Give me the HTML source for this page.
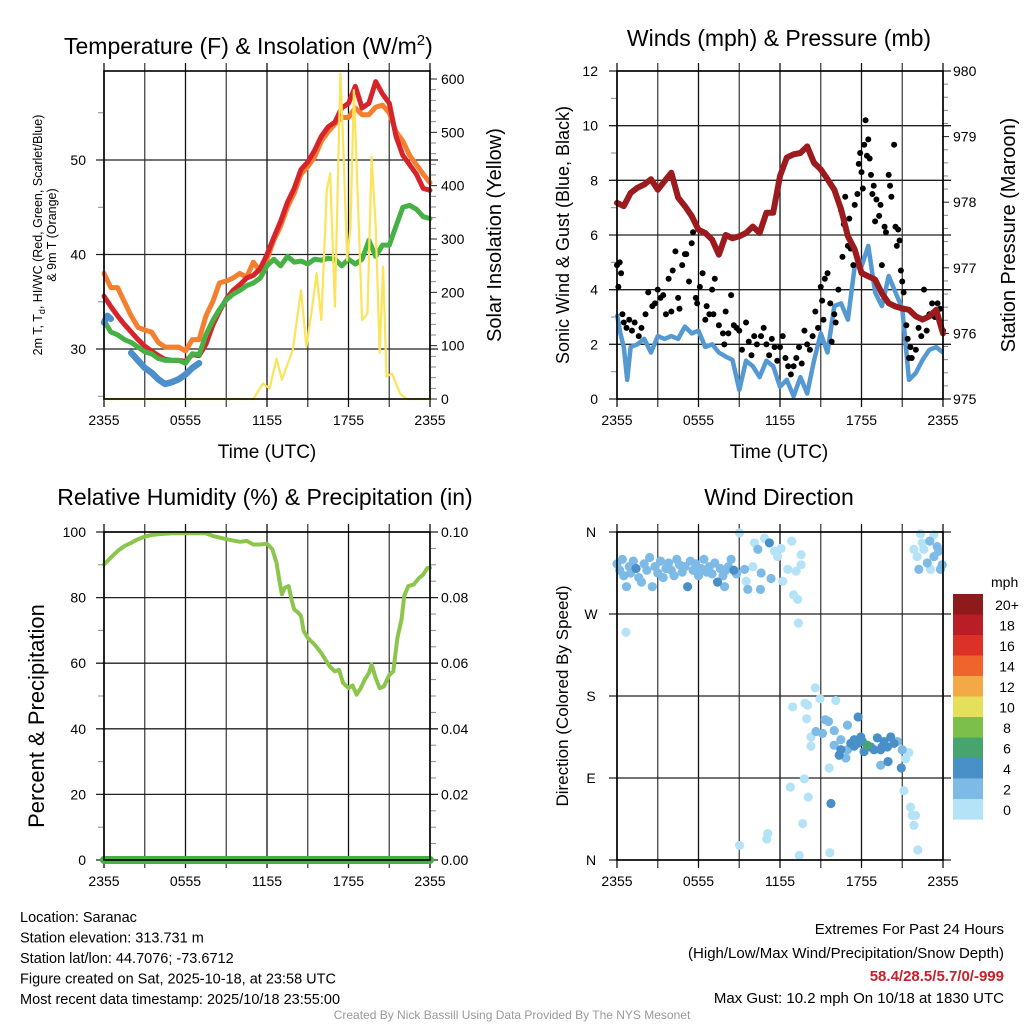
<!DOCTYPE html>
<html><head><meta charset="utf-8"><style>
body{margin:0;background:#fff;}
svg{display:block;font-family:"Liberation Sans",sans-serif;}
</style></head><body>
<svg id="chart" width="1024" height="1024" viewBox="0 0 1024 1024"></svg>
<script>
// ---------- DATA ----------
const halfHours = [0,0.5,1,1.5,2,2.5,3,3.5,4,4.5,5,5.5,6,6.5,7,7.5,8,8.5,9,9.5,10,10.5,11,11.5,12,12.5,13,13.5,14,14.5,15,15.5,16,16.5,17,17.5,18,18.5,19,19.5,20,20.5,21,21.5,22,22.5,23,23.5,24];
const temp2m = [35.6,34.5,33.5,32.6,31.8,31,30.3,29.8,29.3,28.9,28.8,28.8,28.7,29.4,29.3,30.5,32.5,34,35.3,36.2,36.8,37.5,37.8,38.5,40,41.8,43.5,45.5,47,49,49.8,51,52.5,53.5,54,55.5,56,57.8,55.5,56,58.3,57,56,52.5,50.5,49.5,48.5,47,46.8];
const temp9m = [38,36.5,36.5,35,33.5,32.3,32,31.8,30.7,30.2,30.2,30.2,29.8,31,31,33.5,35,37,37.2,37.5,38,37.6,39.2,38.2,39.5,41.5,43,45,46.5,48.5,49.3,50.3,52,53,53.8,54.5,54.5,55.5,54.8,54.8,55.6,55.8,55,53,52,50.5,49.5,48.5,47.6];
const dewpoint = [33,31.8,31.5,31,30.7,30.2,29.7,29.5,29,28.8,28.8,28.8,28.5,29.5,29.4,31.5,33,34.2,35.2,35.8,36.2,36.7,37,37.5,38.8,39.5,38.8,39.8,39.2,39.3,39,39.5,39.4,39.6,39.5,38.8,39.5,39,39.5,41.5,39.8,41,41,43,45,45.2,44.8,44,43.8];
const wcTimes = [0,0.25,0.5,null,2,2.5,3,3.5,4,4.5,5,5.5,6,6.5,7];
const windChill = [32.8,33.5,33.2,null,29.6,28.8,28,27.5,26.8,26.3,26.5,26.8,27.3,28,28.5];
const solarTimes = [0,11,11.7,12.2,12.7,13.1,13.9,14.5,14.9,15.3,15.65,16,16.4,16.65,17,17.4,17.65,17.9,18.15,18.4,18.65,19,19.4,19.7,20,20.3,20.55,20.8,21.2,21.8,22.3,24];
const solarVals = [0,0,29,20,76,36,92,204,98,167,236,148,392,423,173,610,454,260,323,579,404,148,160,454,323,86,248,42,48,10,0,0];
const pressure = [977.99,977.94,978.14,978.22,978.27,978.35,978.19,978.32,978.45,978.07,977.94,977.79,977.58,977.53,977.43,977.2,977.5,977.45,977.48,977.53,977.63,977.53,977.84,977.84,978.4,978.68,978.73,978.75,978.85,978.6,978.5,978.35,978.19,977.89,977.48,977.28,976.92,976.87,976.82,976.61,976.46,976.41,976.38,976.36,976.26,976.21,976.26,976.36,976.0];
const windTimes = [0,0.25,0.5,0.75,1,1.5,2,2.5,3,3.5,4,4.5,5,5.5,6,6.5,7,7.5,8,8.5,9,9.5,10,10.5,11,11.5,12,12.5,13,13.5,14,14.5,15,15.5,16,16.5,17,17.5,18,18.5,19,19.5,20,20.5,21,21.5,22,22.5,23,23.5,24];
const windSpeed = [3.1,2.4,1.9,0.7,1.9,2.0,2.2,1.7,2.3,2.2,2.3,2.2,2.65,2.4,2.5,1.9,2.0,1.7,1.55,1.43,0.33,1.4,1.2,0.8,1.4,1.2,0.45,0.7,0.1,0.8,0.2,1.4,2.4,1.7,3.4,3.5,2.9,4.85,4.85,5.6,3.9,3.4,4.5,3.9,3.3,0.7,0.95,1.43,1.8,1.9,1.7];
const gustTimes = [0,0.1,0.2,0.3,0.4,0.5,0.7,0.9,1.1,1.3,1.6,1.8,2.1,2.3,2.6,2.8,3.0,3.2,3.4,3.6,3.8,4.0,4.1,4.3,4.5,4.6,4.8,5.0,5.1,5.3,5.5,5.6,5.8,5.9,6.1,6.3,6.5,6.6,6.8,7.0,7.1,7.2,7.5,7.8,7.9,8.0,8.2,8.4,8.6,8.8,9.0,9.2,9.5,9.7,9.9,10.1,10.3,10.6,10.8,11,11.2,11.4,11.6,11.8,12.0,12.2,12.4,12.6,12.8,13.0,13.2,13.4,13.6,13.8,14.0,14.2,14.4,14.6,14.8,15.0,15.1,15.2,15.3,15.5,15.7,15.8,16.0,16.1,16.3,16.5,16.6,16.7,16.8,17.0,17.1,17.2,17.4,17.5,17.7,17.8,17.9,18.0,18.1,18.2,18.3,18.4,18.5,18.6,18.7,18.8,18.9,19.0,19.1,19.3,19.4,19.5,19.7,19.8,20.0,20.1,20.2,20.4,20.5,20.6,20.7,20.8,20.9,21.0,21.1,21.3,21.4,21.5,21.6,21.7,22.0,22.2,22.4,22.6,22.8,23.0,23.2,23.4,23.6,23.8,24.0];
const gustSpeed = [4.9,4.1,5.0,4.6,3.1,2.8,2.6,2.9,2.5,2.8,2.3,2.6,3.1,3.9,3.4,3.5,4.0,3.7,3.8,3.1,4.4,3.2,4.7,5.4,3.7,3.3,4.9,5.3,5.3,4.3,5.7,6.1,3.7,3.5,4.1,4.6,2.9,3.4,3.1,4.0,3.1,4.4,2.7,2.4,2.0,3.2,2.4,3.8,2.7,2.6,2.5,1.8,2.8,2.1,1.6,2.3,2.0,2.3,2.6,2.0,1.6,2.2,1.9,1.4,1.9,2.3,1.5,1.2,0.9,1.2,1.5,1.9,1.3,2.5,2.0,1.8,2.3,3.2,2.6,4.1,3.6,2.9,4.4,4.6,3.5,2.1,3.1,2.8,4.0,6.9,5.2,6.4,7.4,5.6,6.6,5.5,4.9,7.1,7.5,8.6,9.0,8.3,7.7,9.3,10.2,8.9,9.5,8.8,8.2,7.5,7.8,6.5,7.3,6.7,7.1,4.9,6.3,6.1,8.2,7.8,7.4,9.3,6.3,5.6,6.2,5.8,4.7,4.3,3.9,2.7,2.2,1.5,1.9,1.5,1.8,2.6,2.3,4.0,2.5,3.1,3.5,3.0,3.5,3.3,2.5];
const rhTimes = [0,0.5,1,1.5,2,2.5,3,3.5,4,5,6,7,7.5,8,9,10,10.5,11,11.5,12,12.4,12.7,12.9,13.1,13.3,13.6,13.8,14,14.3,14.5,14.7,15,15.5,16,16.3,16.6,17,17.3,17.6,18,18.3,18.6,18.9,19.2,19.5,19.7,20,20.3,20.6,21,21.3,21.6,21.9,22.1,22.4,22.8,23.2,23.5,23.8,24];
const rhVals = [90.1,92.2,94.2,95.7,96.7,97.8,98.6,99.1,99.3,99.6,99.6,99.6,99.6,98.8,97.8,97,97.3,96.2,96.2,96.4,94.7,90.6,85.5,81,83,83.5,79.4,76.4,75.4,74.4,69.8,67.7,65.7,63.1,61.1,59.1,57.5,58,54,52.4,53.2,50.4,52.4,55,57,59.6,55.5,52.4,52.9,56.4,57.5,67.7,73.3,80.5,83.5,84,86,87,89,89.1];
const precipTimes = [0,24];
const precipVals = [0,0];
// wind direction: time (h), direction (deg), speed class (mph bin)
const dirTimes = [0,0.2,0.4,0.5,0.7,0.9,1.0,1.2,1.4,1.6,1.8,2.0,2.2,2.4,2.6,2.8,3.0,3.2,3.4,3.6,3.8,4.0,4.2,4.4,4.6,4.8,5.0,5.2,5.4,5.6,5.8,6.0,6.2,6.4,6.6,6.8,7.0,7.2,7.4,7.6,7.8,8.0,8.2,8.4,8.6,8.8,
 9.02,10.12,10.86,11.22,10.37,11.59,11.83,12.08,12.86,13.55,13.55,13.18,12.57,12.2,13.0,13.3,13.35,11.34,10.56,9.63,9.51,10.0,10.61,9.39,8.78,7.92,
 22.35,23.33,22.47,23.03,22.59,23.57,22.1,23.33,23.69,22.84,23.94,22.22,23.08,23.81,21.86,0.66,
 14.6,12.93,13.84,14.03,14.94,16.11,13.96,15.33,15.57,16.97,17.75,14.65,15.13,15.99,14.28,14.28,15.99,16.48,17.46,17.95,18.43,19.17,19.66,20.15,20.64,18.92,17.46,16.97,16.36,16.85,18.19,19.41,19.95,21.0,21.49,21.25,20.93,15.62,13.79,12.76,14.08,15.75,21.12,21.61,21.74,21.98,21.86,13.67,11.1,11.03,9.02,13.42,15.67,22.15,
 17.7,18.68,19.41,19.9,20.39,17.21,16.48,19.5,18.07];
const dirDegs = [325,318,330,312,300,322,315,328,320,310,305,325,318,332,300,322,315,328,310,320,326,318,312,330,324,316,322,300,328,318,325,312,320,330,316,322,314,326,305,320,312,318,322,330,318,314,
 359,348,353,348,341,339,333,342,350,335,324,317,319,306,291,286,260,309,297,297,306,322,315,319,315,300,
 358,357,348,350,341,344,333,333,339,326,324,319,319,319,341,250,
 189,168,172,170,177,175,155,154,152,148,157,141,139,142,135,125,126,132,132,135,126,134,130,135,130,121,125,121,115,112,119,104,108,121,118,111,101,101,89,80,69,62,76,58,49,49,38,40,29,23,16,5,8,11,
 128,124,121,124,128,128,121,124,130];
const dirSpeed = [2,2,2,2,2,2,2,2,4,2,2,2,2,2,2,2,2,2,2,2,2,2,2,2,2,2,2,4,2,2,2,2,2,2,2,2,2,2,4,2,2,2,2,2,4,2,
 0,0,0,4,2,0,0,0,0,0,0,0,0,0,0,0,0,2,2,2,0,0,2,2,2,2,
 0,0,0,2,0,2,0,2,2,2,2,2,0,2,0,0,
 0,0,0,0,0,0,0,2,2,2,4,2,2,2,0,0,2,2,4,4,6,4,4,4,2,4,4,2,4,2,4,2,4,2,0,0,4,0,0,0,0,4,0,0,0,0,0,0,0,0,0,0,0,0,
 4,4,4,4,4,4,4,4,4];
const legendLabels = ["20+","18","16","14","12","10","8","6","4","2","0"];
const legendColors = ["#8f1a1c","#b91d25","#dc3127","#ef632c","#f5a946","#e5e05b","#7cc04b","#48a46e","#4a90c8","#7dbbe6","#b4e3f8"];
const speedBins = [20,18,16,14,12,10,8,6,4,2,0];
const timeTickLabels = ["2355","0555","1155","1755","2355"];
const tempTicks = [30,40,50];
const solarTicks = [0,100,200,300,400,500,600];
const windTicks = [0,2,4,6,8,10,12];
const pressTicks = [975,976,977,978,979,980];
const rhTicks = [0,20,40,60,80,100];
const precipTicks = ["0.00","0.02","0.04","0.06","0.08","0.10"];
const dirTickLabels = ["N","E","S","W","N"];

// ---------- HELPERS ----------
const NS="http://www.w3.org/2000/svg";
const svg=document.getElementById('chart');
function mk(tag,attrs,parent){const e=document.createElementNS(NS,tag);for(const k in attrs)e.setAttribute(k,attrs[k]);(parent||svg).appendChild(e);return e;}
function txt(s,attrs,parent){const e=mk('text',attrs,parent);e.textContent=s;return e;}
const W=326;
function lin(d0,d1,r0,r1){return v=>r0+(v-d0)*(r1-r0)/(d1-d0);}
function pathFrom(xs,ys,fx,fy){let d='',pen=false;for(let i=0;i<xs.length;i++){if(xs[i]===null||ys[i]===null){pen=false;continue;}d+=(pen?'L':'M')+fx(xs[i]).toFixed(1)+','+fy(ys[i]).toFixed(1);pen=true;}return d;}

function frame(g,x0,y0){
  const x1=x0+W,y1=y0+328;
  for(let i=0;i<=8;i++){const x=x0+i*W/8;
    const l=mk('line',{x1:x,x2:x,y1:y0-8,y2:y1+8,stroke:i%2?'#444':'#111','stroke-width':1.3},g);
    
    
  }
  return {x1,y1};
}
function hgrid(g,x0,y,name){
  const l=mk('line',{x1:x0-8,x2:x0+W+8,y1:y,y2:y,stroke:'#222','stroke-width':1.3},g);
  
  
}
function border(g,x0,y0){
  const r=mk('rect',{x:x0,y:y0,width:W,height:328,fill:'none',stroke:'#000','stroke-width':1.6},g);
  
  
}
function timeAxis(g,x0,y){
  timeTickLabels.forEach((s,i)=>{const t=txt(s,{x:x0+i*W/4,y:y,'font-size':14,'text-anchor':'middle'},g);
    
    });
}
function minor(g,x,y,dir){const l=mk('line',{x1:x,x2:x+dir*5,y1:y,y2:y,stroke:'#888','stroke-width':1},g);
  
  }

// ---------- PANEL 1: TEMPERATURE ----------
{
const g=mk('g',{});


const x0=104,y0=71;
const fx=lin(0,24,x0,x0+W), fy=lin(24.71,59.42,399,71), fs=lin(0,615,399,71);
frame(g,x0,y0);
tempTicks.forEach(v=>{hgrid(g,x0,fy(v),'temp-gridline');
  const t=txt(v,{x:86,y:fy(v)+5,'font-size':14,'text-anchor':'end'},g);
  
  });
[25,35,45,55].forEach(v=>minor(g,x0-1,fy(v),-1));
solarTicks.forEach(v=>{const t=txt(v,{x:441,y:fs(v)+5,'font-size':14},g);
  
  
  const l=mk('line',{x1:430,x2:437,y1:fs(v),y2:fs(v),stroke:'#222'},g);
  
  });
for(let v=20;v<615;v+=20){if(v%100)minor(g,431,fs(v),1);}
const series=[[temp9m,'#f47f2e','temp-9m-line'],[temp2m,'#d7242b','temp-2m-line'],[dewpoint,'#46b245','dewpoint-line']];
series.forEach(s=>{const p=mk('path',{d:pathFrom(halfHours,s[0],fx,fy),fill:'none',stroke:s[1],'stroke-width':5,'stroke-linejoin':'round','stroke-linecap':'round'},g);
  
  });
const wc=mk('path',{d:pathFrom(wcTimes,windChill,fx,fy),fill:'none',stroke:'#4d8fcb','stroke-width':6.5,'stroke-linejoin':'round','stroke-linecap':'round'},g);


const so=mk('path',{d:pathFrom(solarTimes,solarVals,fx,fs),fill:'none',stroke:'#fbe35a','stroke-width':2.2,'stroke-linejoin':'round'},g);


border(g,x0,y0);
timeAxis(g,x0,425);
const t1=txt('Temperature (F) & Insolation (W/m',{x:64,y:54,'font-size':23},g);
const sup=mk('tspan',{dy:-9,'font-size':15},t1);sup.textContent='2';
const cl=mk('tspan',{dy:9},t1);cl.textContent=')';


const xt=txt('Time (UTC)',{x:267,y:458,'font-size':19,'text-anchor':'middle'},g);


const yt=txt('2m T, T',{x:0,y:0,'font-size':12.5,'text-anchor':'middle',transform:'translate(42,235) rotate(-90)'},g);
const sub=mk('tspan',{dy:3,'font-size':9},yt);sub.textContent='d';
const rest=mk('tspan',{dy:-3},yt);rest.textContent=', HI/WC (Red, Green, Scarlet/Blue)';


const yt2=txt('& 9m T (Orange)',{x:0,y:0,'font-size':12.5,'text-anchor':'middle',transform:'translate(56,235) rotate(-90)'},g);


const yr=txt('Solar Insolation (Yellow)',{x:0,y:0,'font-size':20,'text-anchor':'middle',transform:'translate(501,235) rotate(-90)'},g);


}

// ---------- PANEL 2: WINDS ----------
{
const g=mk('g',{});


const x0=617,y0=71;
const fx=lin(0,24,x0,x0+W), fy=lin(0,12,399,71), fp=lin(975,980,399,71);
frame(g,x0,y0);
windTicks.forEach(v=>{hgrid(g,x0,fy(v),'wind-gridline');
  const t=txt(v,{x:598,y:fy(v)+5,'font-size':14,'text-anchor':'end'},g);
  
  });
[1,3,5,7,9,11].forEach(v=>minor(g,x0-1,fy(v),-1));
pressTicks.forEach(v=>{const t=txt(v,{x:953,y:fp(v)+5,'font-size':14},g);
  
  
  const l=mk('line',{x1:942,x2:949,y1:fp(v),y2:fp(v),stroke:'#222'},g);
  
  });
for(let v=975.2;v<980;v+=0.2){if(Math.abs(v-Math.round(v))>0.05)minor(g,943,fp(v),1);}
const ws=mk('path',{d:pathFrom(windTimes,windSpeed,fx,fy),fill:'none',stroke:'#5499d2','stroke-width':4.5,'stroke-linejoin':'round'},g);


gustTimes.forEach((t,i)=>{const c=mk('circle',{cx:fx(t),cy:fy(gustSpeed[i]),r:3,fill:'#000'},g);
  
  });
const pp=mk('path',{d:pathFrom(halfHours,pressure,fx,fp),fill:'none',stroke:'#9b1b1e','stroke-width':6,'stroke-linejoin':'round','stroke-linecap':'round'},g);


border(g,x0,y0);
timeAxis(g,x0,425);
const t1=txt('Winds (mph) & Pressure (mb)',{x:779,y:46,'font-size':23,'text-anchor':'middle'},g);


const xt=txt('Time (UTC)',{x:779,y:458,'font-size':19,'text-anchor':'middle'},g);


const yl=txt('Sonic Wind & Gust (Blue, Black)',{x:0,y:0,'font-size':18,'text-anchor':'middle',transform:'translate(569,235) rotate(-90)'},g);


const yr=txt('Station Pressure (Maroon)',{x:0,y:0,'font-size':20,'text-anchor':'middle',transform:'translate(1015,235) rotate(-90)'},g);


}

// ---------- PANEL 3: RH ----------
{
const g=mk('g',{});


const x0=104,y0=532;
const fx=lin(0,24,x0,x0+W), fy=lin(0,100,860,532), fpr=lin(0,0.1,860,532);
frame(g,x0,y0);
rhTicks.forEach(v=>{hgrid(g,x0,fy(v),'rh-gridline');
  const t=txt(v,{x:86,y:fy(v)+5,'font-size':14,'text-anchor':'end'},g);
  
  });
[10,30,50,70,90].forEach(v=>minor(g,x0-1,fy(v),-1));
precipTicks.forEach((s,i)=>{const y=fy(i*20);
  const t=txt(s,{x:441,y:y+5,'font-size':14},g);
  
  });
for(let v=5;v<100;v+=5){if(v%20)minor(g,431,fy(v),1);}
const rh=mk('path',{d:pathFrom(rhTimes,rhVals,fx,fy),fill:'none',stroke:'#8cc54b','stroke-width':4,'stroke-linejoin':'round','stroke-linecap':'round'},g);


const pr=mk('path',{d:pathFrom(precipTimes,precipVals,fx,fpr),fill:'none',stroke:'#46b045','stroke-width':8,'stroke-linecap':'round'},g);


border(g,x0,y0);
timeAxis(g,x0,886);
const t1=txt('Relative Humidity (%) & Precipitation (in)',{x:265,y:505,'font-size':23,'text-anchor':'middle'},g);


const yl=txt('Percent & Precipitation',{x:0,y:0,'font-size':22,'text-anchor':'middle',transform:'translate(44,716) rotate(-90)'},g);


}

// ---------- PANEL 4: WIND DIRECTION ----------
{
const g=mk('g',{});


const x0=617,y0=532;
const fx=lin(0,24,x0,x0+W), fy=lin(0,360,860,532);
frame(g,x0,y0);
dirTickLabels.forEach((s,i)=>{const y=fy(i*90);hgrid(g,x0,y,'direction-gridline');
  const t=txt(s,{x:591,y:y+5,'font-size':14,'text-anchor':'middle'},g);
  
  });
function colorFor(sp){for(let i=0;i<speedBins.length;i++){if(sp>=speedBins[i])return legendColors[i];}return legendColors[legendColors.length-1];}
const order=dirTimes.map((t,i)=>i).sort((a,b)=>dirSpeed[a]-dirSpeed[b]);
order.forEach(i=>{const c=mk('circle',{cx:fx(dirTimes[i]),cy:fy(dirDegs[i]),r:4.6,fill:colorFor(dirSpeed[i])},g);
  
  });
border(g,x0,y0);
timeAxis(g,x0,886);
const t1=txt('Wind Direction',{x:779,y:505,'font-size':23,'text-anchor':'middle'},g);


const yl=txt('Direction (Colored By Speed)',{x:0,y:0,'font-size':17,'text-anchor':'middle',transform:'translate(568,696) rotate(-90)'},g);


const lg=mk('g',{},g);


const ut=txt('mph',{x:991,y:587,'font-size':14},lg);


legendLabels.forEach((s,i)=>{const y=594+i*20.5;
  const r=mk('rect',{x:953,y:y,width:30,height:20.6,fill:legendColors[i]},lg);
  
  
  const t=txt(s,{x:1007,y:y+16,'font-size':14,'text-anchor':'middle'},lg);
  
  });
}

// ---------- FOOTER ----------
{
const g=mk('g',{});


const left=["Location: Saranac","Station elevation: 313.731 m","Station lat/lon: 44.7076; -73.6712","Figure created on Sat, 2025-10-18, at 23:58 UTC","Most recent data timestamp: 2025/10/18 23:55:00"];
left.forEach((s,i)=>{const t=txt(s,{x:20,y:922+i*20.5,'font-size':14.5},g);
  
  });
const r1=txt('Extremes For Past 24 Hours',{x:1004,y:934,'font-size':15,'text-anchor':'end'},g);


const r2=txt('(High/Low/Max Wind/Precipitation/Snow Depth)',{x:1004,y:958,'font-size':15,'text-anchor':'end'},g);


const r3=txt('58.4/28.5/5.7/0/-999',{x:1004,y:981,'font-size':15,'font-weight':'bold',fill:'#c8202a','text-anchor':'end'},g);


const r4=txt('Max Gust: 10.2 mph On 10/18 at 1830 UTC',{x:1004,y:1003,'font-size':15,'text-anchor':'end'},g);


const c=txt('Created By Nick Bassill Using Data Provided By The NYS Mesonet',{x:512,y:1019,'font-size':12,fill:'#999','text-anchor':'middle'},g);


}
</script>
</body></html>
